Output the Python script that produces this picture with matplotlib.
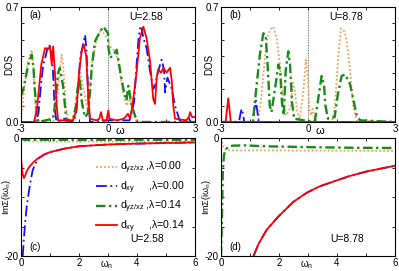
import matplotlib
matplotlib.use("Agg")
import matplotlib.pyplot as plt
import numpy as np

plt.rcParams['font.family'] = ['Liberation Sans', 'DejaVu Sans']
plt.rcParams['mathtext.fontset'] = 'custom'
plt.rcParams['mathtext.rm'] = 'Liberation Sans'
plt.rcParams['mathtext.it'] = 'Liberation Sans'

ORANGE = '#f5a05a'
BLUE = '#1010ff'
GREEN = '#1a8a1a'
RED = '#ff0000'

# ---- panel (a), U=2.58, DOS ----
a_or_w = [-3.0, -2.95, -2.78, -2.63, -2.56, -2.5, -2.45, -1.9, -1.78, -1.6, -1.55, -1.45, -1.35, -1.2, -1.05, -0.95,
          -0.85, -0.7, -0.56, -0.4, -0.28, -0.15, 0.0, 0.07, 0.19, 0.3, 0.41, 0.53, 0.64, 0.76, 0.86, 0.96, 1.1, 3.0]
a_or_v = [0.02, 0.10, 0.35, 0.44, 0.31, 0.09, 0.0, 0.0, 0.10, 0.41, 0.35, 0.09, 0.0, 0.02, 0.19, 0.30,
          0.20, 0.08, 0.35, 0.50, 0.55, 0.54, 0.50, 0.46, 0.44, 0.41, 0.30, 0.17, 0.10, 0.14, 0.06, 0.01, 0.0, 0.0]
a_bl_w = [-3.0, -2.5, -2.4, -2.3, -2.23, -2.15, -2.06, -2.0, -1.95, -1.9, -1.85, -1.78, -1.5, -1.2, -1.1, -1.02,
          -0.95, -0.85, -0.79, -0.74, -0.68, -0.62, 0.0, 0.74, 0.9, 0.99, 1.05, 1.1, 1.16, 1.22, 1.33, 1.45, 1.56,
          1.62, 1.73, 1.85, 1.93, 1.97, 2.05, 2.2, 2.31, 2.47, 2.7, 2.77, 2.85, 3.0]
a_bl_v = [0.0, 0.0, 0.05, 0.25, 0.35, 0.40, 0.47, 0.46, 0.40, 0.32, 0.12, 0.0, 0.02, 0.0, 0.05, 0.24,
          0.40, 0.48, 0.53, 0.43, 0.15, 0.0, 0.01, 0.01, 0.12, 0.36, 0.50, 0.57, 0.57, 0.51, 0.45, 0.31, 0.20,
          0.22, 0.31, 0.38, 0.32, 0.18, 0.27, 0.20, 0.10, 0.01, 0.01, 0.03, 0.0, 0.0]
a_gr_w = [-3.0, -2.92, -2.75, -2.63, -2.57, -2.52, -2.45, -2.4, -1.9, -1.83, -1.72, -1.66, -1.55, -1.43, -1.2,
          -1.1, -1.05, -0.98, -0.9, -0.8, -0.7, -0.62, -0.56, -0.45, -0.28, -0.16, 0.0, 0.01, 0.07, 0.19, 0.3,
          0.41, 0.53, 0.64, 0.7, 0.82, 0.93, 1.0, 3.0]
a_gr_v = [0.16, 0.20, 0.35, 0.41, 0.33, 0.19, 0.05, 0.0, 0.02, 0.10, 0.30, 0.33, 0.22, 0.0, 0.02,
          0.10, 0.20, 0.27, 0.12, 0.03, 0.05, 0.18, 0.33, 0.49, 0.55, 0.58, 0.54, 0.46, 0.39, 0.41, 0.44,
          0.32, 0.20, 0.13, 0.22, 0.10, 0.04, 0.0, 0.0]
a_rd_w = [-3.0, -2.55, -2.45, -2.3, -2.17, -2.08, -2.0, -1.94, -1.89, -1.83, -1.77, -1.72, -1.2, -1.08, -1.0,
          -0.9, -0.83, -0.75, -0.68, -0.62, -0.4, -0.3, -0.24, -0.18, -0.05, 0.01, 0.05, 0.3, 0.55, 0.69, 0.76,
          0.82, 0.9, 0.99, 1.1, 1.22, 1.33, 1.45, 1.56, 1.62, 1.68, 1.73, 1.83, 1.91, 2.02, 2.14, 2.2, 2.25,
          2.31, 2.7, 2.79, 2.83, 2.9, 3.0]
a_rd_v = [0.0, 0.0, 0.08, 0.35, 0.45, 0.44, 0.46, 0.35, 0.46, 0.30, 0.10, 0.01, 0.01, 0.08, 0.30,
          0.44, 0.47, 0.40, 0.15, 0.02, 0.01, 0.02, 0.06, 0.01, 0.01, 0.07, 0.02, 0.01, 0.02, 0.05, 0.02,
          0.08, 0.18, 0.31, 0.51, 0.58, 0.51, 0.37, 0.14, 0.11, 0.27, 0.32, 0.30, 0.33, 0.30, 0.33, 0.25, 0.10,
          0.02, 0.01, 0.03, 0.06, 0.03, 0.03]

# ---- panel (b), U=8.78, DOS ----
b_or_w = [-3.0, -1.72, -1.62, -1.43, -1.31, -1.2, -1.08, -0.97, -0.86, -0.75, -0.6, -0.53, -0.45, -0.38, -0.29,
          -0.17, -0.07, 0.0, 0.05, 0.1, 0.16, 0.22, 0.3, 0.82, 0.92, 1.05, 1.14, 1.26, 1.34, 1.45, 1.56, 1.68, 3.0]
b_or_v = [0.0, 0.0, 0.14, 0.49, 0.56, 0.58, 0.51, 0.35, 0.13, 0.04, 0.09, 0.24, 0.19, 0.06, 0.02,
          0.17, 0.38, 0.25, 0.08, 0.04, 0.08, 0.03, 0.0, 0.0, 0.09, 0.41, 0.57, 0.55, 0.49, 0.31, 0.09, 0.01, 0.0]
b_bl_w = [-3.0, -2.38, -2.33, -2.29, -2.24, -2.2, -1.9, -1.85, -1.8, -1.75, -1.7, 3.0]
b_bl_v = [0.0, 0.0, 0.05, 0.08, 0.05, 0.0, 0.0, 0.08, 0.13, 0.07, 0.0, 0.0]
b_gr_w = [-3.0, -1.9, -1.81, -1.66, -1.54, -1.46, -1.38, -1.32, -1.26, -1.14, -1.02, -0.96, -0.9, -0.84, -0.77,
          -0.68, -0.62, -0.55, -0.48, 0.2, 0.24, 0.36, 0.47, 0.55, 0.6, 0.69, 0.92, 1.03, 1.16, 1.28, 1.45, 1.56,
          1.68, 1.8, 3.0]
b_gr_v = [0.0, 0.0, 0.16, 0.41, 0.54, 0.53, 0.31, 0.10, 0.06, 0.20, 0.35, 0.31, 0.12, 0.04, 0.31,
          0.43, 0.35, 0.12, 0.02, 0.0, 0.01, 0.15, 0.28, 0.23, 0.10, 0.02, 0.03, 0.17, 0.28, 0.29, 0.23, 0.14,
          0.04, 0.01, 0.0]
b_rd_w = [-3.0, -2.84, -2.79, -2.75, -2.71, -2.66, 3.0]
b_rd_v = [0.0, 0.0, 0.08, 0.145, 0.08, 0.0, 0.0]

# ---- panel (c), U=2.58, Im Sigma ----
c_or_w = [0.0, 0.1, 0.5, 1.0, 2.0, 4.0, 6.0]
c_or_v = [-0.2, -0.5, -0.6, -0.6, -0.6, -0.6, -0.6]
c_bl_w = [0.06, 0.1, 0.15, 0.2, 0.25, 0.3, 0.35, 0.4, 0.5, 0.6, 0.8, 1.0, 1.5, 2.0, 3.0, 4.0, 5.0, 6.0]
c_bl_v = [-20.0, -17.0, -14.0, -11.5, -9.8, -8.2, -6.8, -5.5, -4.3, -3.5, -2.8, -2.4, -1.8, -1.4, -1.1, -0.95, -0.85, -0.75]
c_gr_w = [0.0, 0.1, 0.5, 1.0, 2.0, 4.0, 6.0]
c_gr_v = [-0.1, -0.3, -0.3, -0.3, -0.3, -0.3, -0.3]
c_rd_w = [0.0, 0.05, 0.1, 0.15, 0.2, 0.3, 0.45, 0.6, 0.8, 1.0, 1.5, 2.0, 3.0, 4.0, 5.0, 6.0]
c_rd_v = [-3.4, -6.0, -6.8, -6.3, -5.6, -4.8, -4.0, -3.4, -2.8, -2.4, -1.8, -1.4, -1.1, -0.95, -0.85, -0.75]

# ---- panel (d), U=8.78, Im Sigma ----
d_or_w = [0.0, 0.05, 0.1, 0.2, 0.5, 1.0, 2.0, 4.0, 6.0]
d_or_v = [0.0, -1.0, -1.8, -2.1, -2.1, -2.1, -2.1, -2.15, -2.2]
d_gr_w = [0.0, 0.03, 0.06, 0.1, 0.15, 0.25, 0.4, 0.8, 1.5, 3.0, 4.5, 6.0]
d_gr_v = [-20.0, -14.0, -6.0, -3.0, -2.0, -1.5, -1.3, -1.25, -1.4, -1.55, -1.65, -1.7]
d_xy_w = [1.12, 1.3, 1.57, 1.98, 2.5, 2.95, 3.4, 3.87, 4.4, 5.0, 5.5, 6.0]
d_xy_v = [-20.0, -17.9, -15.6, -13.3, -10.8, -9.3, -8.2, -7.4, -6.5, -5.7, -5.2, -4.7]

labels = [r"d$_{yz/xz}$ ,λ=0.00", r"d$_{xy}$     ,λ=0.00",
          r"d$_{yz/xz}$ ,λ=0.14", r"d$_{xy}$     ,λ=0.14"]
styles = [dict(color=ORANGE, ls=(0, (1, 1.2)), lw=1.3),
          dict(color=BLUE, ls=(0, (6, 2, 1, 2)), lw=1.3),
          dict(color=GREEN, ls=(0, (4, 1.5, 1, 1.5)), lw=1.7),
          dict(color=RED, ls='-', lw=1.3)]

fig = plt.figure(figsize=(3.99, 2.71), dpi=100)
W, H = 399, 271
def box(l, t, r, b):
    return [l / W, 1 - b / H, (r - l) / W, (b - t) / H]

axa = fig.add_axes(box(21, 7, 195, 122))
axb = fig.add_axes(box(221, 7, 395, 122))
axc = fig.add_axes(box(21, 138, 195, 256))
axd = fig.add_axes(box(221, 138, 395, 256))

fs = 7

def dos_axes(ax, data, tag, U):
    ax.axvline(0, color='0.3', lw=0.6, ls=(0, (1, 1)))
    for (w, v), st in zip(data, styles):
        ax.plot(w, v, **st)
    ax.set_xlim(-3, 3)
    ax.set_ylim(0, 0.7)
    ax.set_xticks([-3, -2, -1, 0, 1, 2, 3])
    ax.set_xticklabels(['-3', '', '', '0', '', '', '3'])
    ax.set_yticks(np.arange(0, 0.71, 0.1))
    ax.set_yticklabels(['0.0', '', '', '', '', '', '', '0.7'])
    ax.set_ylabel('DOS', fontsize=fs, labelpad=-6)
    ax.text(0.57, -0.035, 'ω', transform=ax.transAxes, fontsize=fs + 1, ha='center', va='top')
    ax.text(0.05, 0.93, tag, transform=ax.transAxes, fontsize=fs, va='center')
    ax.text(0.72, 0.91, U, transform=ax.transAxes, fontsize=fs + 0.5, ha='center', va='center')

def se_axes(ax, data, tag, U):
    for (w, v), st in zip(data, styles):
        ax.plot(w, v, **st)
    ax.set_xlim(0, 6)
    ax.set_ylim(-20, 0)
    ax.set_xticks(range(7))
    ax.set_xticklabels(['0', '', '2', '', '4', '', '6'])
    ax.set_yticks([-20, -15, -10, -5, 0])
    ax.set_yticklabels(['-20', '', '', '', '0'])
    ax.text(0.49, -0.02, r'ω$_n$', transform=ax.transAxes, fontsize=fs, ha='center', va='top')
    ax.set_ylabel(r'ImΣ(iω$_n$)', fontsize=fs - 0.5, labelpad=-6)
    ax.text(0.05, 0.08, tag, transform=ax.transAxes, fontsize=fs, va='center')
    ax.text(0.63, 0.14, U, transform=ax.transAxes, fontsize=fs + 0.5, va='center')

dos_axes(axa, [(a_or_w, a_or_v), (a_bl_w, a_bl_v), (a_gr_w, a_gr_v), (a_rd_w, a_rd_v)], '(a)', 'U=2.58')
dos_axes(axb, [(b_or_w, b_or_v), (b_bl_w, b_bl_v), (b_gr_w, b_gr_v), (b_rd_w, b_rd_v)], '(b)', 'U=8.78')
se_axes(axc, [(c_or_w, c_or_v), (c_bl_w, c_bl_v), (c_gr_w, c_gr_v), (c_rd_w, c_rd_v)], '(c)', 'U=2.58')
se_axes(axd, [(d_or_w, d_or_v), (d_xy_w, d_xy_v), (d_gr_w, d_gr_v), (d_xy_w, d_xy_v)], '(d)', 'U=8.78')

for ax in (axa, axb, axc, axd):
    ax.tick_params(direction='in', top=True, right=True, length=2.5, width=0.6,
                   labelsize=fs, pad=1.5)
    for s in ax.spines.values():
        s.set_linewidth(0.8)

handles = axc.get_lines()[:4]
axc.legend(handles, labels, loc='upper left', bbox_to_anchor=(0.4, 0.86), frameon=False,
           fontsize=fs + 0.6, handlelength=2.0, handletextpad=0.3, labelspacing=0.3,
           borderpad=0.0)

fig.savefig('out.png', dpi=100)
